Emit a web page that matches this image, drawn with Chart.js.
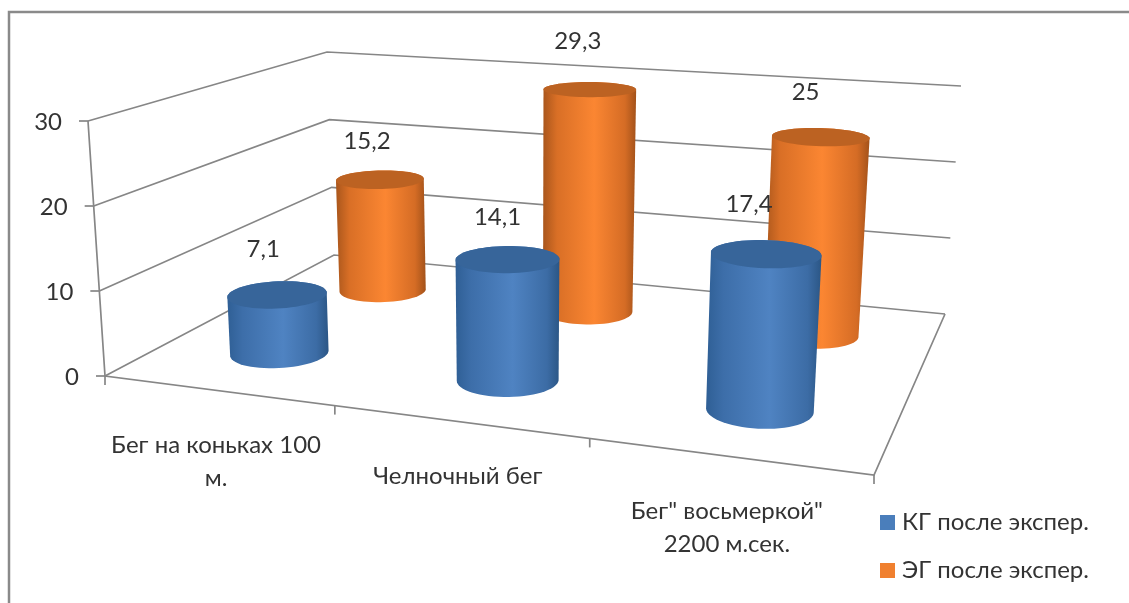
<!DOCTYPE html>
<html lang="ru">
<head>
<meta charset="utf-8">
<title>Результаты после эксперимента</title>
<script src="https://cdn.jsdelivr.net/npm/chart.js@4"></script>
<style>
  html, body { margin: 0; background: #fff; }
  canvas { display: block; }
</style>
</head>
<body>
<canvas id="chart" width="1129" height="603"></canvas>
<script>
// Chart values
const categories = [['Бег на коньках 100', 'м.'], ['Челночный бег'], ['Бег" восьмеркой"', '2200 м.сек.']];
const seriesNames = ['КГ после экспер.', 'ЭГ после экспер.'];
const kgValues = [7.1, 14.1, 17.4];
const egValues = [15.2, 29.3, 25];

// Box corners on screen: front-left, front-right, back-right, back-left
const FLOOR = [[105, 376], [874, 475], [945, 314], [334, 255]];
const ROOF = [[88, 121], [892, 179], [961, 86], [327, 52]];

const RADIUS_U = 0.066;
const RADIUS_V = 0.102;
const LINE = '#868686';
const TEXT = '#333333';
const FONT = '24px Lato, sans-serif';

// Per-series, per-category shift of the value labels, so they clear the caps
const LABEL_SHIFT = [
  [[-1, 3], [3, 6], [-4, -1]],
  [[0, 10], [1, 0], [-2, 3]]
];

const PAINT = [
  { stops: ['#2f5f95', '#3d6ea9', '#4f83c2', '#3c6ca5', '#2b5685'], top: '#37659a' },
  { stops: ['#a9561c', '#d96f26', '#fb8632', '#d56c25', '#a3521a'], top: '#bc6222' }
];
const GRADIENT_AT = [0, 0.15, 0.55, 0.88, 1];

// Unit square -> quad
function makeHomography(q) {
  const [p0, p1, p2, p3] = q;
  const dx1 = p1[0] - p2[0], dy1 = p1[1] - p2[1];
  const dx2 = p3[0] - p2[0], dy2 = p3[1] - p2[1];
  const sx = p0[0] - p1[0] + p2[0] - p3[0];
  const sy = p0[1] - p1[1] + p2[1] - p3[1];
  const den = dx1 * dy2 - dx2 * dy1;
  const g = (sx * dy2 - dx2 * sy) / den;
  const h = (dx1 * sy - sx * dy1) / den;
  return (u, v) => {
    const w = 1 + g * u + h * v;
    return [
      ((p1[0] - p0[0] + g * p1[0]) * u + (p3[0] - p0[0] + h * p3[0]) * v + p0[0]) / w,
      ((p1[1] - p0[1] + g * p1[1]) * u + (p3[1] - p0[1] + h * p3[1]) * v + p0[1]) / w
    ];
  };
}

const floorAt = makeHomography(FLOOR);
const roofAt = makeHomography(ROOF);

// u along categories, v into depth, t up the value axis (all 0..1)
function project(u, v, t) {
  const a = floorAt(u, v);
  const b = roofAt(u, v);
  return [a[0] + (b[0] - a[0]) * t, a[1] + (b[1] - a[1]) * t];
}

function decimal(scale, value) {
  return scale.getDecimalForPixel(scale.getPixelForValue(value));
}

function polyline(ctx, points) {
  ctx.beginPath();
  points.forEach((p, i) => (i ? ctx.lineTo(p[0], p[1]) : ctx.moveTo(p[0], p[1])));
}

function convexHull(points) {
  const pts = points.slice().sort((a, b) => a[0] - b[0] || a[1] - b[1]);
  const cross = (o, a, b) => (a[0] - o[0]) * (b[1] - o[1]) - (a[1] - o[1]) * (b[0] - o[0]);
  const half = list => {
    const out = [];
    list.forEach(p => {
      while (out.length > 1 && cross(out[out.length - 2], out[out.length - 1], p) <= 0) out.pop();
      out.push(p);
    });
    out.pop();
    return out;
  };
  return half(pts).concat(half(pts.slice().reverse()));
}

function ring(u, v, t) {
  const out = [];
  for (let i = 0; i < 64; i++) {
    const a = (i / 64) * Math.PI * 2;
    out.push(project(u + RADIUS_U * Math.cos(a), v + RADIUS_V * Math.sin(a), t));
  }
  return out;
}

function drawCylinder(ctx, u, v, t, paint) {
  const base = ring(u, v, 0);
  const cap = ring(u, v, t);
  const hull = convexHull(base.concat(cap));
  const xs = hull.map(p => p[0]);

  const body = ctx.createLinearGradient(Math.min(...xs), 0, Math.max(...xs), 0);
  paint.stops.forEach((color, i) => body.addColorStop(GRADIENT_AT[i], color));

  ctx.fillStyle = body;
  polyline(ctx, hull);
  ctx.closePath();
  ctx.fill();

  ctx.fillStyle = paint.top;
  polyline(ctx, cap);
  ctx.closePath();
  ctx.fill();
}

function drawFrame(ctx) {
  ctx.strokeStyle = '#8a8a8a';
  ctx.lineWidth = 2.5;
  polyline(ctx, [[9, 603], [9, 12], [1129, 12]]);
  ctx.stroke();
}

function drawWalls(ctx, chart) {
  const { y } = chart.scales;
  ctx.strokeStyle = LINE;
  ctx.lineWidth = 1.7;

  // Gridlines run along the side wall and the back wall
  y.ticks.forEach(tick => {
    const t = decimal(y, tick.value);
    polyline(ctx, [project(0, 0, t), project(0, 1, t), project(1, 1, t)]);
    ctx.stroke();
    const p = project(0, 0, t);
    polyline(ctx, [[p[0] - 9, p[1]], p]);
    ctx.stroke();
  });

  // Floor outline and value axis
  polyline(ctx, [project(0, 0, 1), project(0, 0, 0), project(1, 0, 0), project(1, 1, 0)]);
  ctx.stroke();

  // Category ticks
  for (let i = 0; i <= categories.length; i++) {
    const p = project(i / categories.length, 0, 0);
    polyline(ctx, [p, [p[0], p[1] + 9]]);
    ctx.stroke();
  }
}

function drawAxisText(ctx, chart) {
  const { x, y } = chart.scales;
  ctx.fillStyle = TEXT;
  ctx.font = FONT;
  ctx.textBaseline = 'middle';

  ctx.textAlign = 'right';
  y.ticks.forEach(tick => {
    const p = project(0, 0, decimal(y, tick.value));
    ctx.fillText(String(tick.value), p[0] - 26, p[1] + 1);
  });

  ctx.textAlign = 'center';
  categories.forEach((lines, i) => {
    const p = project(decimal(x, i), 0, 0);
    lines.forEach((line, k) => ctx.fillText(line, p[0] - 1, p[1] + 55 + k * 33));
  });
}

// Swatches sit closer to the text than the built-in legend allows
function drawLegend(ctx, chart) {
  ctx.font = FONT;
  ctx.textAlign = 'left';
  ctx.textBaseline = 'middle';
  chart.data.datasets.forEach((ds, s) => {
    const rowY = 522 + s * 48;
    ctx.fillStyle = ds.backgroundColor;
    ctx.fillRect(880, rowY - 7, 15, 15);
    ctx.fillStyle = TEXT;
    ctx.fillText(ds.label, 902, rowY);
  });
}

const cylinders3d = {
  id: 'cylinders3d',
  beforeDraw(chart) {
    drawFrame(chart.ctx);
  },
  // Replaces the flat bars with projected cylinders
  beforeDatasetsDraw(chart) {
    const ctx = chart.ctx;
    const { x, y, depth } = chart.scales;
    ctx.save();
    drawWalls(ctx, chart);
    drawAxisText(ctx, chart);

    // Back row first so the front row overlaps it
    for (let s = chart.data.datasets.length - 1; s >= 0; s--) {
      chart.data.datasets[s].data.forEach((value, i) => {
        drawCylinder(ctx, decimal(x, i), decimal(depth, s), decimal(y, value), PAINT[s]);
      });
    }

    ctx.fillStyle = TEXT;
    ctx.font = FONT;
    ctx.textAlign = 'center';
    ctx.textBaseline = 'middle';
    chart.data.datasets.forEach((ds, s) => {
      ds.data.forEach((value, i) => {
        const p = project(decimal(x, i), decimal(depth, s), decimal(y, value));
        const shift = LABEL_SHIFT[s][i];
        ctx.fillText(String(value).replace('.', ','), p[0] - 13 + shift[0], p[1] - 48 + shift[1]);
      });
    });

    drawLegend(ctx, chart);
    ctx.restore();
    return false;
  }
};

new Chart(document.getElementById('chart'), {
  type: 'bar',
  data: {
    labels: categories,
    datasets: [
      { label: seriesNames[0], data: kgValues, backgroundColor: '#4a7ebb', borderWidth: 0 },
      { label: seriesNames[1], data: egValues, backgroundColor: '#f0802f', borderWidth: 0 }
    ]
  },
  plugins: [cylinders3d],
  options: {
    responsive: false,
    animation: false,
    plugins: {
      tooltip: { enabled: false },
      legend: { display: false }
    },
    scales: {
      x: { display: false },
      y: { display: false, min: 0, max: 30, ticks: { stepSize: 10 } },
      depth: { type: 'category', axis: 'x', labels: seriesNames, offset: true, display: false }
    }
  }
});
</script>
</body>
</html>
